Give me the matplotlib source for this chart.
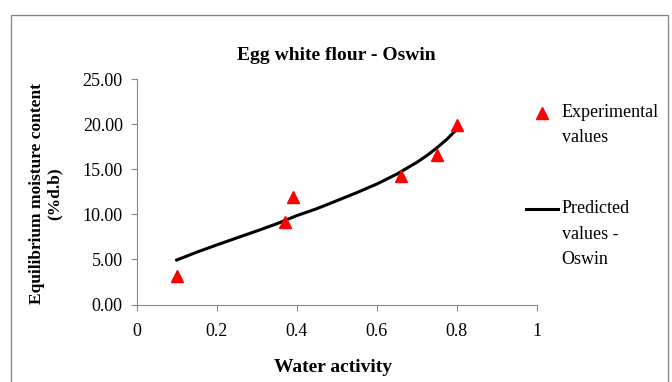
import numpy as np
import matplotlib.pyplot as plt
from matplotlib.patches import Rectangle
from matplotlib.legend_handler import HandlerLine2D

# experimental points
aw_exp = [0.10, 0.37, 0.39, 0.66, 0.75, 0.80]
emc_exp = [3.2, 9.2, 11.95, 14.2, 16.6, 19.9]

# predicted (Oswin) curve
aw_pred = [0.10, 0.15, 0.20, 0.25, 0.30, 0.35, 0.40, 0.45, 0.50, 0.55,
           0.60, 0.65, 0.70, 0.725, 0.75, 0.775, 0.80]
emc_pred = [4.93, 5.80, 6.60, 7.38, 8.15, 8.95, 9.85, 10.62, 11.50, 12.40,
            13.35, 14.45, 15.75, 16.50, 17.35, 18.30, 19.40]

xticks = [0, 0.2, 0.4, 0.6, 0.8, 1]
xticklabels = ['0', '0.2', '0.4', '0.6', '0.8', '1']
yticks = [0, 5, 10, 15, 20, 25]

plt.rcParams['font.family'] = ['Liberation Serif', 'DejaVu Serif']
grey = '#888888'


class TopHandler(HandlerLine2D):
    # puts the legend key level with the first line of its label
    def __init__(self, dy, **kw):
        super().__init__(**kw)
        self.dy = dy

    def create_artists(self, *args, **kw):
        arts = super().create_artists(*args, **kw)
        for a in arts:
            a.set_ydata(np.asarray(a.get_ydata()) + self.dy)
        return arts


fig = plt.figure(figsize=(6.72, 3.82), dpi=100)
ax = fig.add_axes([136.7 / 672, 77.5 / 382, 400 / 672, 225.5 / 382])

line, = ax.plot(aw_pred, emc_pred, color='black', lw=2.2)
pts, = ax.plot(aw_exp, emc_exp, '^', color='red', ms=8, ls='none')

ax.set_xlim(0, 1)
ax.set_ylim(0, 25)
ax.set_xticks(xticks)
ax.set_xticklabels(xticklabels)
ax.set_yticks(yticks)
ax.set_yticklabels([f'{v:.2f}' for v in yticks])
ax.tick_params(labelsize=13, color=grey, length=4)
ax.tick_params(axis='x', pad=9)
ax.tick_params(axis='y', pad=6)
for s in ['top', 'right']:
    ax.spines[s].set_visible(False)
for s in ['left', 'bottom']:
    ax.spines[s].set_color(grey)

ax.set_title('Egg white flour - Oswin', fontsize=14, fontweight='bold', pad=14)
ax.set_xlabel('Water activity', fontsize=14, fontweight='bold', va='center')
ax.xaxis.set_label_coords(0.49, (304.5 - 367) / 225.5)
ax.set_ylabel('Equilibrium moisture content\n(%d.b)', fontsize=12.5, fontweight='bold',
              va='center', linespacing=1.1)
ax.yaxis.set_label_coords((46 - 136.7) / 400, (304.5 - 193.5) / 225.5)

leg = ax.legend([pts, line], ['Experimental\nvalues', 'Predicted\nvalues -\nOswin'],
                loc='upper left', bbox_to_anchor=(526 / 672, 1 - 104 / 382),
                bbox_transform=fig.transFigure, frameon=False, fontsize=13,
                labelspacing=3.0, handlelength=1.77, handletextpad=0.2,
                borderpad=0, borderaxespad=0, numpoints=1,
                handler_map={pts: TopHandler(9.0, numpoints=1), line: TopHandler(18.0)})
for t in leg.get_texts():
    t.set_linespacing(1.63)

fig.patches.append(Rectangle((11 / 672, -0.01), 657 / 672, 1 - 15 / 382 + 0.01,
                             transform=fig.transFigure, fill=False, edgecolor=grey, lw=1))

fig.savefig('out.png', dpi=100)
